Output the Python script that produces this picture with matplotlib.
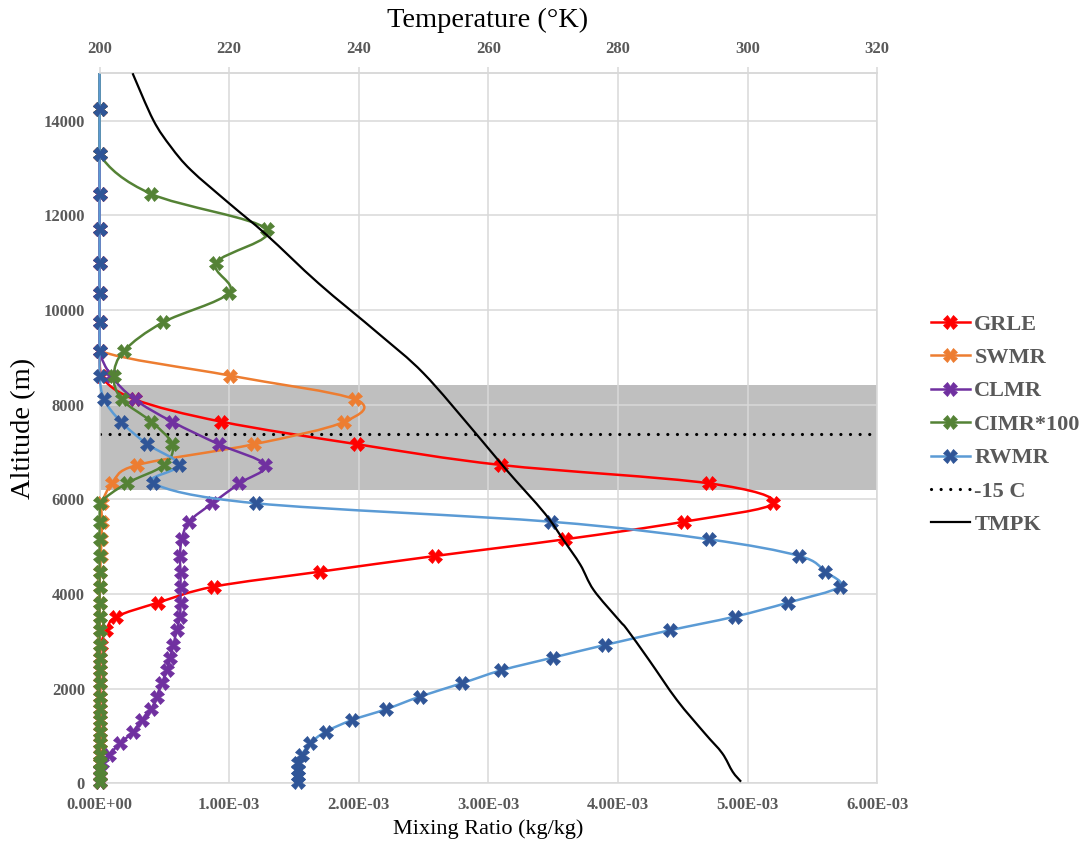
import numpy as np
import matplotlib
matplotlib.use('Agg')
import matplotlib.pyplot as plt
from matplotlib.path import Path
from matplotlib.patches import PathPatch, Rectangle
from matplotlib.lines import Line2D
from matplotlib.ticker import FuncFormatter

plt.rcParams['font.family'] = ['Liberation Serif', 'DejaVu Serif']

# model levels (m), top down
levels = [15150, 14240, 13295, 12450, 11705, 11000, 10365, 9740, 9140, 8613,
          8114, 7641, 7164, 6726, 6340, 5918, 5529, 5157, 4805, 4473,
          4156, 3818, 3523, 3235, 2925, 2660, 2390, 2120, 1833, 1567,
          1341, 1094, 849, 600, 440, 290, 150, 30]

# mixing ratios in g/kg (1e-3 kg/kg)
grle = [0, 0, 0, 0, 0, 0, 0, 0, 0, 0.01,
        0.27, 0.94, 1.99, 3.10, 4.70, 5.20, 4.51, 3.59, 2.59, 1.70,
        0.88, 0.45, 0.13, 0.05, 0.01, 0.005, 0.005, 0.005, 0.005, 0.005,
        0.005, 0.005, 0.005, 0.005, 0.005, 0.005, 0.005, 0.005]
swmr = [0, 0, 0, 0, 0, 0, 0, 0, 0, 1.01,
        1.97, 1.89, 1.19, 0.29, 0.10, 0.02, 0.02, 0.015, 0.01, 0.005,
        0, 0, 0, 0, 0, 0, 0, 0, 0, 0,
        0, 0, 0, 0, 0, 0, 0, 0]
clmr = [0, 0, 0, 0, 0, 0, 0, 0, 0, 0.09,
        0.27, 0.56, 0.92, 1.28, 1.08, 0.87, 0.69, 0.635, 0.62, 0.625,
        0.625, 0.625, 0.62, 0.595, 0.57, 0.545, 0.52, 0.48, 0.44, 0.40,
        0.33, 0.26, 0.16, 0.07, 0.02, 0, 0, 0]
cimr100 = [0, 0, 0, 0.40, 1.29, 0.90, 1.00, 0.49, 0.19, 0.11,
           0.17, 0.40, 0.56, 0.50, 0.21, 0.005, 0, 0, 0, 0,
           0, 0, 0, 0, 0, 0, 0, 0, 0, 0,
           0, 0, 0, 0, 0, 0, 0, 0]
rwmr = [0, 0, 0, 0, 0, 0, 0, 0, 0, 0,
        0.035, 0.165, 0.37, 0.615, 0.415, 1.205, 3.48, 4.70, 5.40, 5.60,
        5.71, 5.31, 4.90, 4.40, 3.90, 3.50, 3.10, 2.80, 2.47, 2.21,
        1.95, 1.745, 1.625, 1.56, 1.535, 1.53, 1.53, 1.535]

# temperature profile
tmpk_alt = [15000, 14010, 13449, 12956, 12253, 11584, 10564, 9508, 8663, 7396,
            6621, 5706, 5142, 4620, 4087, 3453, 3256, 2608, 1763, 1060,
            638, 249, 38]
tmpk = [205.1, 208.3, 211.0, 214.1, 220.0, 225.8, 233.8, 243.0, 250.0, 258.05,
        262.8, 268.7, 271.6, 274.2, 276.25, 280.15, 281.4, 284.8, 289.1, 293.4,
        296.1, 297.7, 299.0]

minus15_alt = 7380
band_bottom, band_top = 6200, 8415

series = [
    ('GRLE', grle, '#FF0000', '#FF0000'),
    ('SWMR', swmr, '#ED7D31', '#ED7D31'),
    ('CLMR', clmr, '#7030A0', '#7030A0'),
    ('CIMR*100', cimr100, '#548235', '#548235'),
    ('RWMR', rwmr, '#5B9BD5', '#2F5597'),
]

GRID = '#D9D9D9'
LABEL = '#595959'
MS = 9.5


def smooth_path(x, y, xmin=None):
    # spline through the points, Bezier form (like a spreadsheet's smoothed line)
    pts = np.column_stack([x, y]).astype(float)
    n = len(pts)
    verts = [pts[0]]
    codes = [Path.MOVETO]
    for i in range(n - 1):
        p0 = pts[max(i - 1, 0)]
        p1 = pts[i]
        p2 = pts[i + 1]
        p3 = pts[min(i + 2, n - 1)]
        c1 = p1 + (p2 - p0) / 6
        c2 = p2 - (p3 - p1) / 6
        if xmin is not None:
            # mixing ratios can't dip below zero
            c1[0] = max(c1[0], xmin)
            c2[0] = max(c2[0], xmin)
        verts += [c1, c2, p2]
        codes += [Path.CURVE4] * 3
    return Path(verts, codes)


fig = plt.figure(figsize=(10.9, 8.46), dpi=100)
ax = fig.add_axes([0.0913, 0.0739, 0.7134, 0.8395])

ax.axhspan(band_bottom, band_top, color='#BFBFBF', lw=0, zorder=1)
ax.axhline(minus15_alt, color='black', lw=2.3, ls=(0, (0.01, 3.0)),
           dash_capstyle='round', zorder=2)

# clip only top/bottom so lines lying on the zero line keep their full width
clip_box = Rectangle((-0.02, 0), 1.04, 1, transform=ax.transAxes)

alt = np.array(levels)
inside = alt <= 15000
handles = []
for k, (name, vals, lc, mc) in enumerate(series):
    x = np.array(vals) * 1e-3
    z = 3 + 0.2 * k
    line = PathPatch(smooth_path(x, levels, xmin=0.0), fill=False,
                     edgecolor=lc, lw=1.8, zorder=z)
    ax.add_patch(line)
    line.set_clip_path(clip_box)
    ax.plot(x[inside], alt[inside], ls='none', marker='X', ms=MS, mfc=mc,
            mec=mc, mew=0.5, zorder=z + 0.1, clip_on=False)
    handles.append(Line2D([], [], color=lc, lw=1.8, marker='X', ms=MS,
                          mfc=mc, mec=mc, mew=0.5, label=name))

handles.append(Line2D([], [], color='black', lw=2.3, ls=(0, (0.01, 3.0)),
                      dash_capstyle='round', label='-15 C'))
handles.append(Line2D([], [], color='black', lw=1.6, label='TMPK'))

ax.set_xlim(0, 6e-3)
ax.set_ylim(0, 15000)
ax.set_xticks(np.arange(0, 6.01e-3, 1e-3))
ax.set_yticks(np.arange(0, 14001, 2000))
ax.xaxis.set_major_formatter(FuncFormatter(lambda v, p: f'{v:.2E}'))
ax.set_axisbelow('line')
ax.grid(True, color=GRID, lw=1.1)
for s in ax.spines.values():
    s.set_color(GRID)
    s.set_linewidth(1.1)
ax.tick_params(axis='x', length=0, pad=9.5, labelsize=12, labelcolor=LABEL)
ax.tick_params(axis='y', length=0, pad=10.5, labelsize=12, labelcolor=LABEL)
for lab in ax.get_xticklabels() + ax.get_yticklabels():
    lab.set_fontweight('bold')

# temperature on the top axis
ax2 = ax.twiny()
ax2.add_patch(PathPatch(smooth_path(tmpk, tmpk_alt), fill=False,
                        edgecolor='black', lw=1.6, zorder=5))
ax2.set_xlim(200, 320)
ax2.set_ylim(0, 15000)
ax2.set_xticks(np.arange(200, 321, 20))
for name, s in ax2.spines.items():
    s.set_visible(name == 'top')
    s.set_color(GRID)
    s.set_linewidth(1.1)
ax2.tick_params(axis='x', direction='out', length=4.5, width=1.1, color=GRID,
                pad=7.5, labelsize=12, labelcolor=LABEL)
for lab in ax2.get_xticklabels():
    lab.set_fontweight('bold')

fig.text(0.4477, 1 - 20 / 846, 'Temperature (°K)', ha='center', va='center',
         fontsize=20.5, color='black')
fig.text(0.4477, 1 - 829 / 846, 'Mixing Ratio (kg/kg)', ha='center',
         va='center', fontsize=16, color='black')
fig.text(24 / 1090, 1 - 428 / 846, 'Altitude (m)', ha='center', va='center',
         rotation=90, fontsize=20.5, color='black')

fig.legend(handles=handles, loc='upper left',
           bbox_to_anchor=(931 / 1090, 1 - 314 / 846), frameon=False,
           borderpad=0, borderaxespad=0, handlelength=1.75,
           handletextpad=0.2, labelspacing=0.58, labelcolor=LABEL,
           prop={'family': 'Liberation Serif', 'weight': 'bold', 'size': 16})

fig.savefig('out.png', dpi=100)
